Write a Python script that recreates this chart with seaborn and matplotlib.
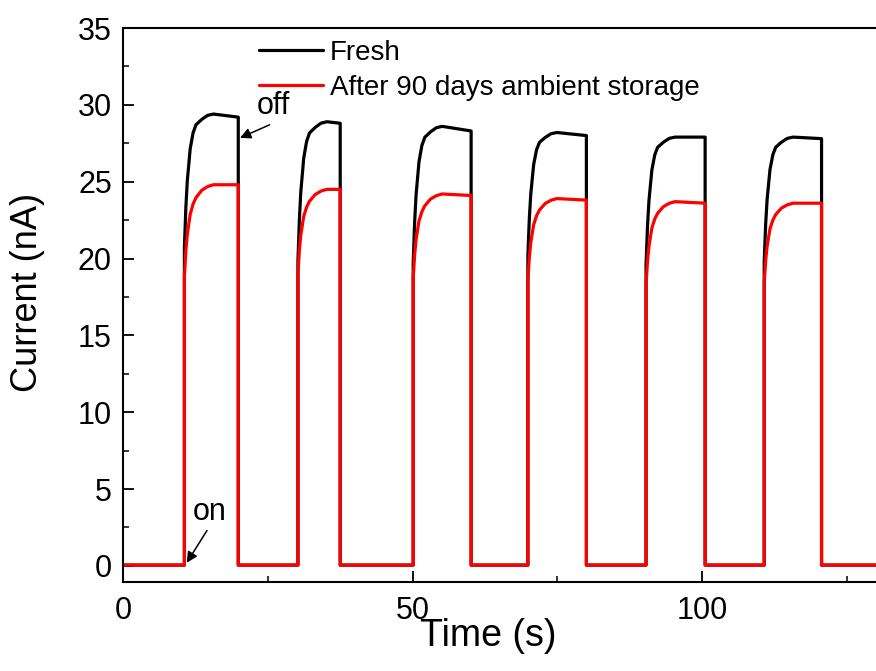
import matplotlib
matplotlib.use("Agg")
import numpy
import pandas as pd
import seaborn as sns
from matplotlib import pyplot
from matplotlib.ticker import MultipleLocator

# values
base_level = 0.05
t_end = 130
pulse_on = [10.6, 30.2, 50.1, 69.9, 90.3, 110.7]
pulse_off = [19.9, 37.5, 60.1, 80.0, 100.5, 120.6]

fresh_jump = [20.7, 19.8, 19.7, 20.2, 19.6, 19.8]
fresh_plateau = [29.4, 28.9, 28.6, 28.2, 27.9, 27.9]
fresh_end = [29.2, 28.8, 28.3, 28.0, 27.9, 27.8]

aged_jump = [18.8, 19.0, 18.7, 18.6, 18.3, 18.4]
aged_plateau = [24.8, 24.5, 24.2, 23.9, 23.7, 23.6]
aged_end = [24.8, 24.5, 24.1, 23.8, 23.6, 23.6]

# shape of the rise after switching on (seconds after "on", fraction of the step)
rise_dt = [0, 0.25, 0.5, 1.0, 1.5, 2.0, 3.0, 4.0, 5.0]
fresh_frac = [0, 0.30, 0.50, 0.74, 0.86, 0.92, 0.96, 0.99, 1.0]
aged_frac = [0, 0.28, 0.46, 0.68, 0.79, 0.86, 0.94, 0.98, 1.0]


def build_trace(jump, plateau, end, frac):
    t = [0.0]
    cur = [base_level]
    for k in range(len(pulse_on)):
        on, off = pulse_on[k], pulse_off[k]
        t.append(on)
        cur.append(base_level)
        for dt, f in zip(rise_dt, frac):
            if on + dt < off:
                t.append(on + dt)
                cur.append(jump[k] + (plateau[k] - jump[k]) * f)
        t.append(off)
        cur.append(end[k])
        t.append(off)
        cur.append(base_level)
    t.append(t_end)
    cur.append(base_level)
    return t, cur


t_f, c_f = build_trace(fresh_jump, fresh_plateau, fresh_end, fresh_frac)
t_a, c_a = build_trace(aged_jump, aged_plateau, aged_end, aged_frac)

df = pd.concat([
    pd.DataFrame({"time": t_f, "current": c_f, "sample": "Fresh"}),
    pd.DataFrame({"time": t_a, "current": c_a, "sample": "After 90 days ambient storage"}),
], ignore_index=True)

sns.set_theme(style="ticks")
pyplot.rcParams['font.family'] = ['Liberation Sans', 'DejaVu Sans']
pyplot.rcParams['text.color'] = 'black'
pyplot.rcParams['axes.labelcolor'] = 'black'

fig = pyplot.figure(figsize=(8.76, 6.71), dpi=100)
ax = fig.add_axes([123 / 876, 1 - 582 / 671, 1 - 123 / 876, (582 - 28) / 671])

sns.lineplot(data=df, x="time", y="current", hue="sample",
             palette={"Fresh": "black", "After 90 days ambient storage": "#ff0000"},
             estimator=None, sort=False, linewidth=2.3, ax=ax)

ax.set_xlim(0, 130)
ax.set_ylim(-1.05, 35)
ax.xaxis.set_major_locator(MultipleLocator(50))
ax.xaxis.set_minor_locator(MultipleLocator(25))
ax.yaxis.set_major_locator(MultipleLocator(5))
ax.yaxis.set_minor_locator(MultipleLocator(2.5))
ax.tick_params(which="major", direction="in", length=8, width=1.3, labelsize=22, colors="black", pad=10)
ax.tick_params(which="minor", direction="in", length=4.5, width=1.3)
ax.tick_params(axis="y", pad=8)
for side in ["left", "bottom", "top"]:
    ax.spines[side].set_linewidth(1.5)
    ax.spines[side].set_color("black")
ax.spines["right"].set_visible(False)

ax.set_xlabel("Time (s)", fontsize=27, color="black")
ax.set_ylabel("Current (nA)", fontsize=26, color="black")
ax.xaxis.set_label_coords(0.485, -0.065)
ax.yaxis.set_label_coords(-0.103, 0.523)

leg = ax.legend(loc="upper left", bbox_to_anchor=(0.1806, 0.978), frameon=False, fontsize=20,
                handlelength=2.3, handletextpad=0.25, labelspacing=0.3, borderpad=0, borderaxespad=0)
for line in leg.get_lines():
    line.set_linewidth(2.3)
for txt in leg.get_texts():
    txt.set_color("black")

arrow = dict(arrowstyle="-|>", color="black", lw=1.1, mutation_scale=16, shrinkA=0, shrinkB=0)
ax.text(25.9, 29.9, "off", fontsize=22, ha="center", va="center", color="black")
ax.annotate("", xy=(20.2, 27.85), xytext=(25.3, 28.7), arrowprops=arrow)
ax.text(15.0, 3.5, "on", fontsize=22, ha="center", va="center", color="black")
ax.annotate("", xy=(11.0, 0.2), xytext=(14.5, 2.3), arrowprops=arrow)

pyplot.savefig("out.png", dpi=100)
pyplot.close()
